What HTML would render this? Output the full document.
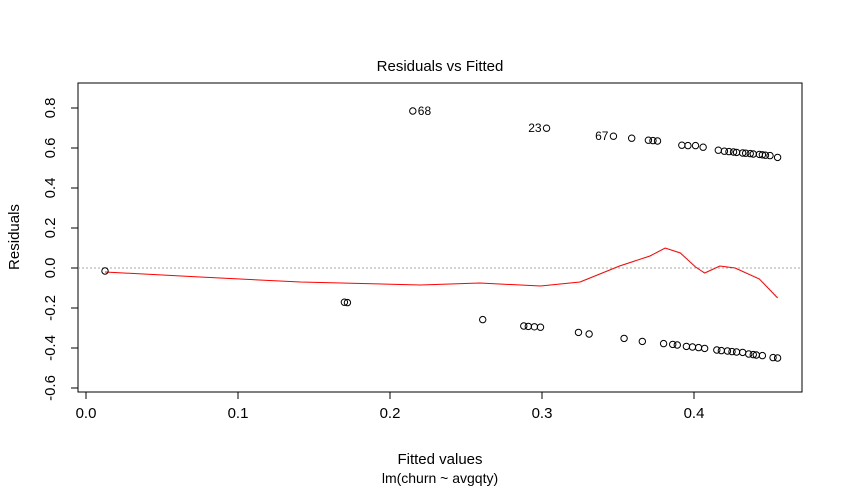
<!DOCTYPE html>
<html><head><meta charset="utf-8"><style>
body{margin:0;background:#fff;}
svg{display:block;font-family:"Liberation Sans",Arial,sans-serif;}
</style></head><body>
<svg width="844" height="488">
<g id="g"></g>
</svg>
<script>
const fittedTop=[0.215,0.303,0.347,0.359,0.370,0.373,0.376,0.392,0.396,0.401,0.406,0.416,0.420,0.423,0.426,0.428,0.432,0.434,0.437,0.439,0.443,0.445,0.447,0.450,0.455];
const residTop=[0.785,0.699,0.659,0.649,0.639,0.637,0.635,0.614,0.612,0.612,0.604,0.589,0.584,0.582,0.580,0.578,0.575,0.574,0.572,0.570,0.568,0.566,0.564,0.562,0.553];
const fittedBot=[0.0125,0.170,0.172,0.261,0.288,0.291,0.295,0.299,0.324,0.331,0.354,0.366,0.380,0.386,0.389,0.395,0.399,0.403,0.407,0.415,0.418,0.422,0.425,0.428,0.432,0.436,0.439,0.441,0.445,0.452,0.455];
const residBot=[-0.015,-0.171,-0.173,-0.258,-0.290,-0.292,-0.294,-0.296,-0.322,-0.330,-0.352,-0.367,-0.378,-0.382,-0.385,-0.392,-0.395,-0.398,-0.402,-0.410,-0.413,-0.415,-0.418,-0.420,-0.422,-0.430,-0.433,-0.435,-0.438,-0.448,-0.450];
const labelIdx=[["68",0],["23",1],["67",2]];
const smoothX=[0.0125,0.075,0.141,0.22,0.259,0.299,0.325,0.351,0.371,0.381,0.391,0.401,0.407,0.417,0.427,0.443,0.455];
const smoothY=[-0.02,-0.045,-0.07,-0.085,-0.075,-0.09,-0.07,0.01,0.06,0.1,0.075,0.005,-0.025,0.01,0.0,-0.055,-0.15];
const xTicks=[0,0.1,0.2,0.3,0.4];
const xTickLabels=["0.0","0.1","0.2","0.3","0.4"];
const yTicks=[-0.6,-0.4,-0.2,0,0.2,0.4,0.6,0.8];
const yTickLabels=["-0.6","-0.4","-0.2","0.0","0.2","0.4","0.6","0.8"];

const X=v=>86+v*1520;
const Y=v=>268-v*200;
const NS="http://www.w3.org/2000/svg";
const g=document.getElementById('g');
function mk(t,a,txt){const e=document.createElementNS(NS,t);for(const k in a)e.setAttribute(k,a[k]);if(txt!==undefined)e.textContent=txt;g.appendChild(e);return e;}
let e;
e=mk('rect',{x:78,y:83,width:724,height:309,fill:'none',stroke:'#000','stroke-width':1});

e=mk('line',{x1:78,x2:802,y1:Y(0),y2:Y(0),stroke:'#aaa','stroke-dasharray':'2,2'});

xTicks.forEach((t,i)=>{
 e=mk('line',{x1:X(t),x2:X(t),y1:392,y2:399,stroke:'#000'});
 
 e=mk('text',{x:X(t),y:418,'font-size':15,'text-anchor':'middle'},xTickLabels[i]);
 
});
yTicks.forEach((t,i)=>{
 e=mk('line',{x1:71,x2:78,y1:Y(t),y2:Y(t),stroke:'#000'});
 
 e=mk('text',{x:0,y:0,'font-size':15,'text-anchor':'middle',transform:`translate(55,${Y(t)}) rotate(-90)`},yTickLabels[i]);
 
});
e=mk('polyline',{points:smoothX.map((x,i)=>X(x)+','+Y(smoothY[i])).join(' '),fill:'none',stroke:'#f00','stroke-width':1});

function pts(xs,ys){xs.forEach((x,i)=>{e=mk('circle',{cx:X(x),cy:Y(ys[i]),r:3.2,fill:'none',stroke:'#000','stroke-width':1});
 });}
pts(fittedTop,residTop);pts(fittedBot,residBot);
labelIdx.forEach(([lab,i],k)=>{
 const right=k===0;
 e=mk('text',{x:X(fittedTop[i])+(right?5:-5),y:Y(residTop[i])+4,'font-size':12,'text-anchor':right?'start':'end'},lab);
 
});
e=mk('text',{x:440,y:71,'font-size':15,'text-anchor':'middle'},'Residuals vs Fitted');

e=mk('text',{x:440,y:464,'font-size':15,'text-anchor':'middle'},'Fitted values');

e=mk('text',{x:440,y:483,'font-size':14,'text-anchor':'middle'},'lm(churn ~ avgqty)');

e=mk('text',{x:0,y:0,'font-size':15,'text-anchor':'middle',transform:'translate(19,237) rotate(-90)'},'Residuals');

</script>
</body></html>
